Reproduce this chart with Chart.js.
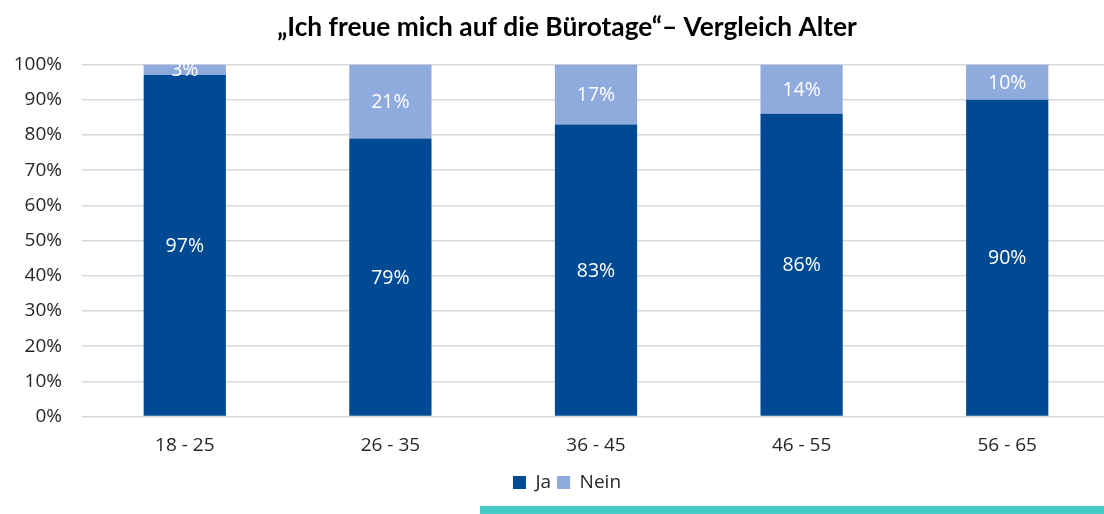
<!DOCTYPE html>
<html><head><meta charset="utf-8">
<script src="https://cdn.jsdelivr.net/npm/chart.js@4/dist/chart.umd.min.js"></script>
<style>
html,body{margin:0;padding:0;overflow:hidden;background:#fff;width:1104px;height:514px;}
#wrap{position:absolute;left:0;top:0;width:1134px;height:514px;}
#teal{position:absolute;left:480px;top:506px;width:624px;height:8px;background:#48CBC6;}
</style></head><body>
<div id="wrap"><canvas id="c" width="1134" height="514"></canvas></div>
<div id="teal"></div>
<script>
const titleText = '\u201EIch freue mich auf die B\u00FCrotage\u201C\u2013 Vergleich Alter';
const categories = ['18 - 25', '26 - 35', '36 - 45', '46 - 55', '56 - 65'];
const jaValues = [97, 79, 83, 86, 90];
const neinValues = [3, 21, 17, 14, 10];
const seriesNames = ['Ja', 'Nein'];
const seriesColors = ['#004A93', '#8FAADC'];

const labelPlugin = {
  id: 'segLabels',
  afterDatasetsDraw(chart) {
    const ctx = chart.ctx;
    ctx.save();
    ctx.fillStyle = '#FFFFFF';
    ctx.font = '19.5px "Open Sans"';
    ctx.textAlign = 'center';
    ctx.textBaseline = 'middle';
    chart.data.datasets.forEach((ds, di) => {
      const meta = chart.getDatasetMeta(di);
      meta.data.forEach((el, i) => {
        const y = (el.y + el.base) / 2 + 1;
        ctx.fillText(ds.data[i] + '%', el.x, y);
      });
    });
    ctx.restore();
  }
};

new Chart(document.getElementById('c'), {
  type: 'bar',
  data: {
    labels: categories,
    datasets: [
      { label: seriesNames[0], data: jaValues, backgroundColor: seriesColors[0], barPercentage: 0.4, categoryPercentage: 1 },
      { label: seriesNames[1], data: neinValues, backgroundColor: seriesColors[1], barPercentage: 0.4, categoryPercentage: 1 }
    ]
  },
  options: {
    responsive: false,
    devicePixelRatio: 1,
    animation: false,
    layout: { padding: { left: 0, right: 0, top: 0, bottom: 12 } },
    plugins: {
      title: {
        display: true,
        text: titleText,
        color: '#000000',
        font: { family: 'Lato', size: 26.3, weight: 'bold' },
        padding: { top: 12, bottom: 21 }
      },
      legend: {
        display: true,
        position: 'bottom',
        labels: {
          color: '#262626',
          font: { family: 'Open Sans', size: 19 },
          boxWidth: 13,
          boxHeight: 13,
          padding: 6
        }
      },
      tooltip: { enabled: false }
    },
    scales: {
      x: {
        stacked: true,
        afterFit(scale) { scale.height = 50.5; },
        grid: { display: false, drawTicks: false },
        border: { display: false },
        ticks: { color: '#262626', font: { family: 'Open Sans', size: 19 }, padding: 18 }
      },
      y: {
        stacked: true,
        min: 0,
        max: 100,
        afterFit(scale) { scale.width = 82; },
        grid: { color: '#D9D9D9', lineWidth: 1.5, drawTicks: false },
        border: { display: false },
        ticks: {
          stepSize: 10,
          color: '#262626',
          font: { family: 'Open Sans', size: 19 },
          padding: 20,
          callback: v => v + '%'
        }
      },
      yRight: {
        position: 'right',
        display: true,
        min: 0,
        max: 100,
        afterFit(scale) { scale.width = 24; },
        grid: { display: false, drawTicks: false },
        border: { display: false },
        ticks: { display: false }
      }
    }
  },
  plugins: [labelPlugin]
});
</script>
</body></html>
